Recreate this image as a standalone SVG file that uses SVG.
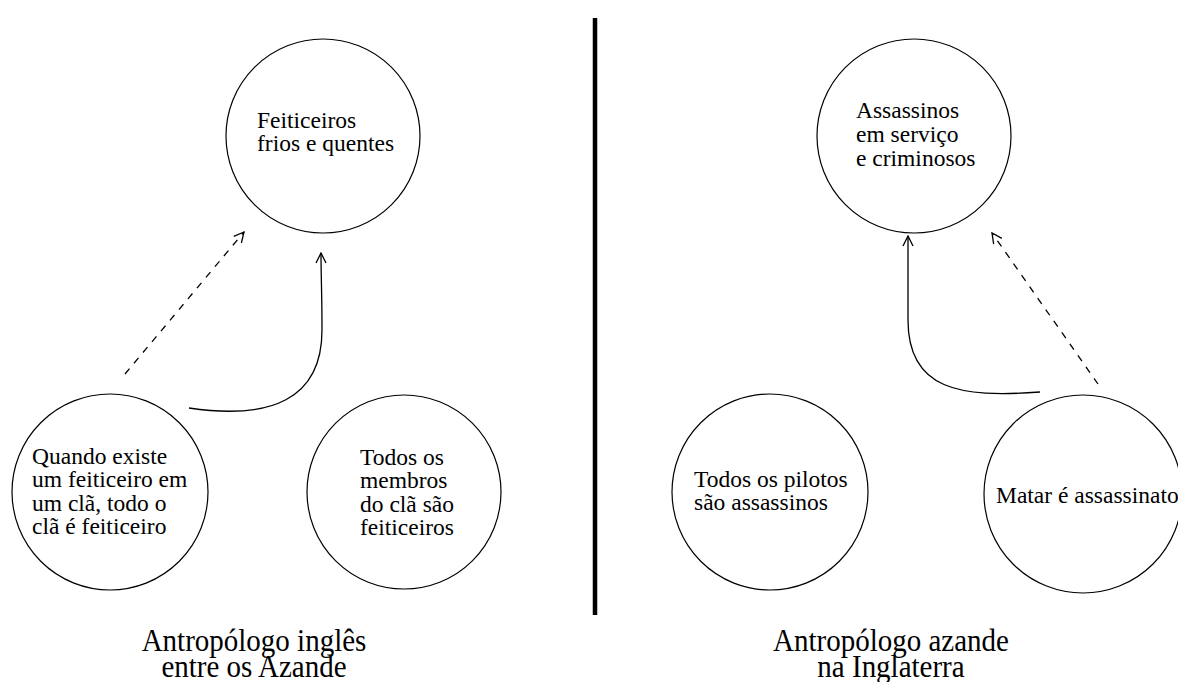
<svg xmlns="http://www.w3.org/2000/svg" width="1178" height="682" viewBox="0 0 1178 682">
<style>
.node{fill:none;stroke:#000;stroke-width:1.2}
.t{font-family:"Liberation Serif","Times New Roman",serif;font-size:23.5px;fill:#000}
.cap{font-family:"Liberation Serif","Times New Roman",serif;font-size:29px;fill:#000;text-anchor:middle}
.edge{fill:none;stroke:#000;stroke-width:1.3}
.dash{stroke-dasharray:7 7}
</style>
<defs>
<marker id="ah" viewBox="0 0 12 12" refX="11" refY="6" markerWidth="12" markerHeight="12" markerUnits="userSpaceOnUse" orient="auto">
<path d="M1,1 L11,6 L1,11" fill="none" stroke="#000" stroke-width="1.3"/>
</marker>
</defs>
<rect width="1178" height="682" fill="#fff"/>
<line x1="595" y1="18" x2="595" y2="615" stroke="#000" stroke-width="4.5"/>
<g id="n-feiticeiros">
<circle class="node" cx="323" cy="136" r="97"/>
<text class="t" x="257" y="128">Feiticeiros</text>
<text class="t" x="257" y="151">frios e quentes</text>
</g>
<g id="n-quando">
<circle class="node" cx="110" cy="492" r="98"/>
<text class="t" x="32" y="464">Quando existe</text>
<text class="t" x="32" y="487">um feiticeiro em</text>
<text class="t" x="32" y="511">um clã, todo o</text>
<text class="t" x="32" y="534">clã é feiticeiro</text>
</g>
<g id="n-todos">
<circle class="node" cx="404" cy="492" r="97"/>
<text class="t" x="360" y="465">Todos os</text>
<text class="t" x="360" y="488">membros</text>
<text class="t" x="360" y="512">do clã são</text>
<text class="t" x="360" y="535">feiticeiros</text>
</g>
<g id="n-assassinos">
<circle class="node" cx="914" cy="136" r="97"/>
<text class="t" x="856" y="118">Assassinos</text>
<text class="t" x="856" y="142">em serviço</text>
<text class="t" x="856" y="166">e criminosos</text>
</g>
<g id="n-pilotos">
<circle class="node" cx="770" cy="492" r="98"/>
<text class="t" x="694" y="487">Todos os pilotos</text>
<text class="t" x="694" y="510">são assassinos</text>
</g>
<g id="n-matar">
<circle class="node" cx="1083" cy="494" r="99"/>
<text class="t" x="996" y="503">Matar é assassinato</text>
</g>
<g id="connectors">
<path class="edge dash" d="M125,374 L244,232" marker-end="url(#ah)"/>
<path class="edge" d="M189,408 C270,420 322,400 322,330 C322,295 321,275 321,253" marker-end="url(#ah)"/>
<path class="edge" d="M1040,392 C960,398 908,390 908,320 C908,290 908,260 908,236" marker-end="url(#ah)"/>
<path class="edge dash" d="M1098,384 L992,233" marker-end="url(#ah)"/>
</g>
<g id="captions">
<text class="cap" transform="translate(254,651) scale(1,1.08)">Antropólogo inglês</text>
<text class="cap" transform="translate(254,677) scale(1,1.08)">entre os Azande</text>
<text class="cap" transform="translate(891,651) scale(1,1.08)">Antropólogo azande</text>
<text class="cap" transform="translate(891,677) scale(1,1.08)">na Inglaterra</text>
</g>
</svg>
